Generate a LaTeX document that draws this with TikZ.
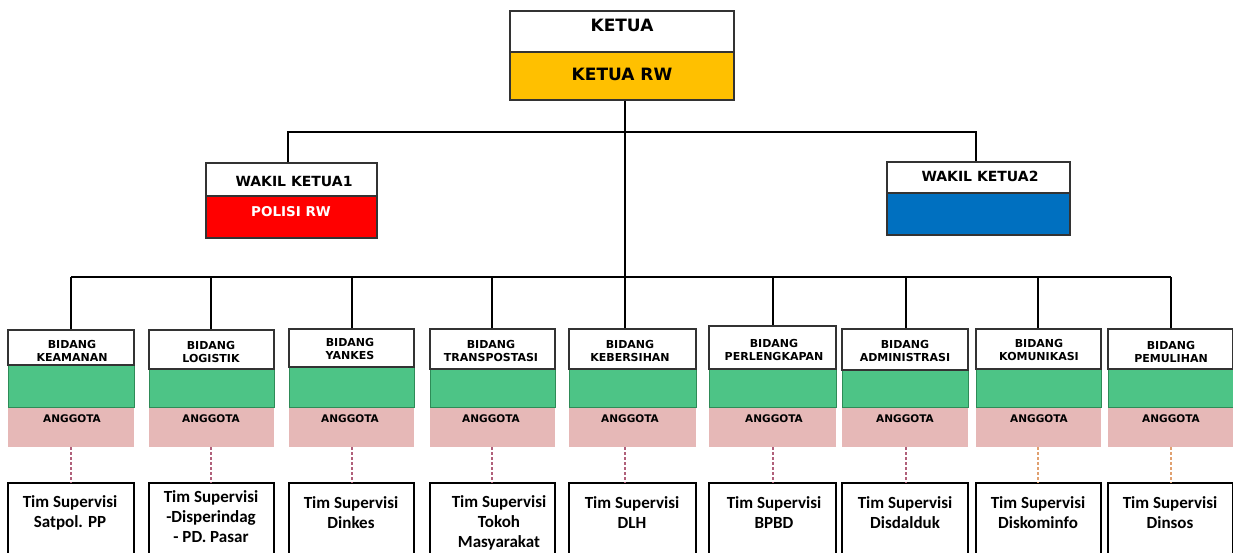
\documentclass[tikz,border=0pt]{standalone}
\usepackage{fontspec}
\setmainfont{DejaVu Sans}
\newfontfamily\timfont{Carlito}
\usetikzlibrary{fit}
\definecolor{orangeK}{HTML}{FFC000}
\definecolor{redW}{HTML}{FF0000}
\definecolor{blueW}{HTML}{0070C0}
\definecolor{greenB}{HTML}{4DC486}
\definecolor{greenE}{HTML}{2E8B57}
\definecolor{pinkB}{HTML}{E6B8B7}
\definecolor{dashA}{HTML}{B0607A}
\definecolor{dashB}{HTML}{E0A070}
\begin{document}
\begin{tikzpicture}[x=1pt,y=-1pt,
  conn/.style={line width=2.8pt, black},
  frame/.style={draw=black!80, line width=1.3pt, inner sep=0pt},
  plain/.style={inner sep=0pt},
  hdr/.style={font=\bfseries\fontsize{#1}{#1}\selectfont, inner sep=0pt, align=center},
  btext/.style={font=\bfseries\fontsize{11}{13}\selectfont, inner sep=0pt, align=center},
  atext/.style={font=\bfseries\fontsize{10.5}{12}\selectfont, inner sep=0pt},
  ttext/.style={font=\timfont\bfseries\fontsize{17}{20}\selectfont, inner sep=0pt, align=center},
  dots/.style={line width=1.3pt, dash pattern=on 3pt off 2pt}
]
\useasboundingbox (0,0) rectangle (1233,552);
\clip (0,0) rectangle (1233,552);

% KETUA
\node[frame, fill=white, fit={(510,11)(734,52)}] (ketua) {};
\node[frame, fill=orangeK, fit={(510,52)(734,100)}] (ketuarw) {};
\node[hdr=17] (ketuaT) at (622,25) {KETUA};
\node[hdr=17] (ketuarwT) at (622,74) {KETUA RW};

% WAKIL
\node[frame, fill=white, fit={(206,163)(377,196)}] (w1) {};
\node[frame, fill=redW, fit={(206,196)(377,238)}] (w1b) {};
\node[hdr=14] (w1T) at (294,181) {WAKIL KETUA1};
\node[hdr=13.5, text=white] (w1bT) at (291,212) {POLISI RW};

\node[frame, fill=white, fit={(887,162)(1070,193)}] (w2) {};
\node[frame, fill=blueW, fit={(887,193)(1070,235)}] (w2b) {};
\node[hdr=14] (w2T) at (980,176) {WAKIL KETUA2};

\coordinate (busA) at (625,132);
\coordinate (busB) at (625,277);
\coordinate (wc1) at (288,132);
\coordinate (wc2) at (976,132);
\draw[conn] (ketuarw.south -| busA) -- (busB);
\draw[conn] (wc1 |- w1.north) -- (wc1) -- (wc2) -- (wc2 |- w2.north);

% BIDANG
\foreach \i/\l/\r/\cx/\tx/\t/\d/\ty/\txt/\dc/\ttx/\tty/\tim in {
 1/8/134/71/72/330/365/351/{BIDANG\\KEAMANAN}/dashA/70/513/{Tim Supervisi\\Satpol. PP},
 2/149/274/211/211/330/369/352/{BIDANG\\LOGISTIK}/dashA/211/517/{Tim Supervisi\\-Disperindag\\- PD. Pasar},
 3/289/414/352/350/329/367/349/{BIDANG\\YANKES}/dashA/351/513/{Tim Supervisi\\Dinkes},
 4/430/555/492/491/329/369/351/{BIDANG\\TRANSPOSTASI}/dashA/499/523/{Tim Supervisi\\Tokoh\\Masyarakat},
 5/569/696/625/630/329/369/351/{BIDANG\\KEBERSIHAN}/dashA/632/513/{Tim Supervisi\\DLH},
 6/709/836/773/774/326/369/350/{BIDANG\\PERLENGKAPAN}/dashA/774/513/{Tim Supervisi\\BPBD},
 7/842/968/906/905/329/370/351/{BIDANG\\ADMINISTRASI}/dashA/905/513/{Tim Supervisi\\Disdalduk},
 8/976/1101/1038/1039/329/369/350/{BIDANG\\KOMUNIKASI}/dashB/1038/513/{Tim Supervisi\\Diskominfo},
 9/1108/1233/1171/1171/329/369/352/{BIDANG\\PEMULIHAN}/dashB/1170/513/{Tim Supervisi\\Dinsos}}
{
  \node[plain, fill=pinkB, fit={(\l,407)(\r,447)}] (p\i) {};
  \node[plain, fill=greenB, draw=greenE, line width=0.8pt, fit={(\l,\d)(\r,407)}] (g\i) {};
  \node[frame, fill=white, fit={(\l,\t)(\r,\d)}] (h\i) {};
  \node[btext] (hT\i) at (\tx,\ty) {\txt};
  \node[atext] (pT\i) at (\tx,419) {ANGGOTA};
  \node[draw=black, line width=1.2pt, inner sep=0pt, fit={(\l,483)(\r,570)}] (s\i) {};
  \node[ttext] (sT\i) at (\ttx,\tty) {\tim};
  \coordinate (c\i) at (\cx,277);
  \draw[conn, line width=2.2pt] (c\i) -- (c\i |- h\i.north);
  \draw[dots, draw=\dc] (c\i |- p\i.south) -- (c\i |- s\i.north);
}
\draw[conn] (c1) -- (c9);
\end{tikzpicture}
\end{document}
